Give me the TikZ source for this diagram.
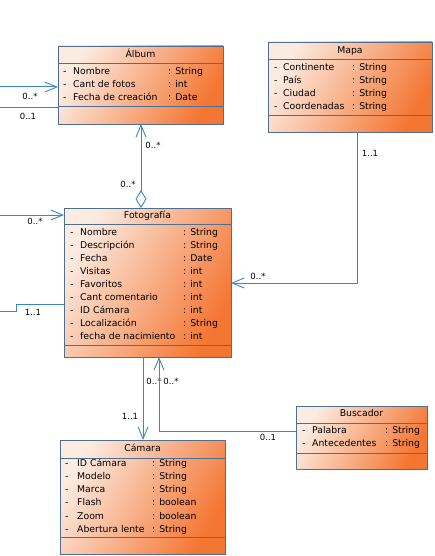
\documentclass[tikz,border=0pt]{standalone}
\usepackage{fontspec}
\setmainfont{DejaVu Sans}
\usetikzlibrary{arrows.meta,calc}
\definecolor{bordc}{HTML}{4E6E92}
\definecolor{linec}{HTML}{3A88C2}
\definecolor{lightc}{HTML}{FCEBE1}
\definecolor{darkc}{HTML}{F47633}
\tikzset{
 classbox/.style={draw=bordc, line width=0.9pt, rectangle, inner sep=0pt, outer sep=0pt, anchor=north west, top color=lightc, bottom color=darkc, shading angle=60},
 sepline/.style={draw=bordc, line width=0.9pt},
 txt/.style={font=\fontsize{9.3}{10}\selectfont, inner sep=0pt, text height=6.5pt, text depth=2pt, anchor=west},
 ttl/.style={txt, anchor=center},
 lbl/.style={font=\fontsize{8.5}{10}\selectfont, inner sep=0pt, text height=6pt, text depth=1pt},
 assoc/.style={draw=linec, line width=1pt},
 nav/.style={-{Straight Barb[length=12pt,width=10pt,line width=0.9pt]}},
}
\begin{document}
\begin{tikzpicture}[x=1pt,y=-1pt]
\fill[white] (0,0) rectangle (434,556);
\useasboundingbox (0,0) rectangle (434,556);

% ---------- Album ----------
\node[classbox, minimum width=165pt, minimum height=78pt] (album) at (58,46) {};
\draw[sepline] ($(album.north west)+(0,17)$) -- ($(album.north east)+(0,17)$);
\draw[sepline] ($(album.north west)+(0,60)$) -- ($(album.north east)+(0,60)$);
\node[ttl] (albumt) at (140.5,55) {Álbum};
\foreach \n/\t [count=\i from 0] in {Nombre/String, Cant de fotos/int, Fecha de creación/Date}{
  \node[txt] (album-d\i) at (63,72+13*\i) {-};
  \node[txt] (album-n\i) at (73,72+13*\i) {\n};
  \node[txt] (album-t\i) at (168,72+13*\i) {: \t};
}

% ---------- Mapa ----------
\node[classbox, minimum width=164pt, minimum height=90pt] (mapa) at (268,42) {};
\draw[sepline] ($(mapa.north west)+(0,17)$) -- ($(mapa.north east)+(0,17)$);
\draw[sepline] ($(mapa.north west)+(0,73)$) -- ($(mapa.north east)+(0,73)$);
\node[ttl] (mapat) at (350,51) {Mapa};
\foreach \n/\t [count=\i from 0] in {Continente/String, País/String, Ciudad/String, Coordenadas/String}{
  \node[txt] (mapa-d\i) at (274,68+13*\i) {-};
  \node[txt] (mapa-n\i) at (283,68+13*\i) {\n};
  \node[txt] (mapa-t\i) at (352,68+13*\i) {: \t};
}

% ---------- Fotografia ----------
\node[classbox, minimum width=167pt, minimum height=149pt] (foto) at (64,208) {};
\draw[sepline] ($(foto.north west)+(0,16)$) -- ($(foto.north east)+(0,16)$);
\draw[sepline] ($(foto.north west)+(0,137)$) -- ($(foto.north east)+(0,137)$);
\node[ttl] (fotot) at (147.5,216) {Fotografía};
\foreach \n/\t [count=\i from 0] in {Nombre/String, Descripción/String, Fecha/Date, Visitas/int, Favoritos/int, Cant comentario/int, ID Cámara/int, Localización/String, fecha de nacimiento/int}{
  \node[txt] (foto-d\i) at (70,233+13*\i) {-};
  \node[txt] (foto-n\i) at (80,233+13*\i) {\n};
  \node[txt] (foto-t\i) at (183,233+13*\i) {: \t};
}

% ---------- Camara ----------
\node[classbox, minimum width=165pt, minimum height=114pt] (cam) at (60,440) {};
\draw[sepline] ($(cam.north west)+(0,18)$) -- ($(cam.north east)+(0,18)$);
\draw[sepline] ($(cam.north west)+(0,97)$) -- ($(cam.north east)+(0,97)$);
\node[ttl] (camt) at (142.5,449) {Cámara};
\foreach \n/\t [count=\i from 0] in {ID Cámara/String, Modelo/String, Marca/String, Flash/boolean, Zoom/boolean, Abertura lente/String}{
  \node[txt] (cam-d\i) at (65,464+13.2*\i) {-};
  \node[txt] (cam-n\i) at (77,464+13.2*\i) {\n};
  \node[txt] (cam-t\i) at (152,464+13.2*\i) {: \t};
}

% ---------- Buscador ----------
\node[classbox, minimum width=131pt, minimum height=63pt] (busc) at (296,406) {};
\draw[sepline] ($(busc.north west)+(0,17)$) -- ($(busc.north east)+(0,17)$);
\draw[sepline] ($(busc.north west)+(0,47)$) -- ($(busc.north east)+(0,47)$);
\node[ttl] (busct) at (361.5,414) {Buscador};
\foreach \n/\t [count=\i from 0] in {Palabra/String, Antecedentes/String}{
  \node[txt] (busc-d\i) at (302,431+13.5*\i) {-};
  \node[txt] (busc-n\i) at (312,431+13.5*\i) {\n};
  \node[txt] (busc-t\i) at (385,431+13.5*\i) {: \t};
}

% ---------- Connectors ----------
\coordinate (l1) at (0,87);
\draw[assoc,nav] (l1) -- (l1 -| album.west);
\node[lbl] (t1) at (30,97) {0..*};
\coordinate (l2) at (0,108);
\draw[assoc] (l2) -- (l2 -| album.west);
\node[lbl] (t2) at (28,117) {0..1};

\coordinate (c3) at (141,0);
\draw[assoc, {Diamond[open,length=18pt,width=11pt,line width=0.9pt]}-{Straight Barb[length=12pt,width=10pt,line width=0.9pt]}] (c3 |- foto.north) -- (c3 |- album.south);
\node[lbl] (t3a) at (153,146) {0..*};
\node[lbl] (t3b) at (128,185) {0..*};

\coordinate (l4) at (0,215);
\draw[assoc,nav] (l4) -- (l4 -| foto.west);
\node[lbl] (t4) at (35,222) {0..*};

\coordinate (l5) at (0,311);
\coordinate (k5) at (16,304);
\draw[assoc] (l5) -| (k5) -- (k5 -| foto.west);
\node[lbl] (t5) at (33,313) {1..1};

\coordinate (c6) at (357,283);
\draw[assoc,nav] (c6 |- mapa.south) |- (foto.east |- c6);
\node[lbl] (t6a) at (370,154) {1..1};
\node[lbl] (t6b) at (258,277) {0..*};

\coordinate (c7) at (143,0);
\draw[assoc,nav] (c7 |- foto.south) -- (c7 |- cam.north);
\node[lbl] (t7a) at (130,417) {1..1};
\node[lbl] (t7b) at (154,382) {0..*};

\coordinate (c8) at (159,431);
\draw[assoc,nav] (busc.west |- c8) -| (c8 |- foto.south);
\node[lbl] (t8a) at (171,382) {0..*};
\node[lbl] (t8b) at (268,438) {0..1};
\end{tikzpicture}
\end{document}
